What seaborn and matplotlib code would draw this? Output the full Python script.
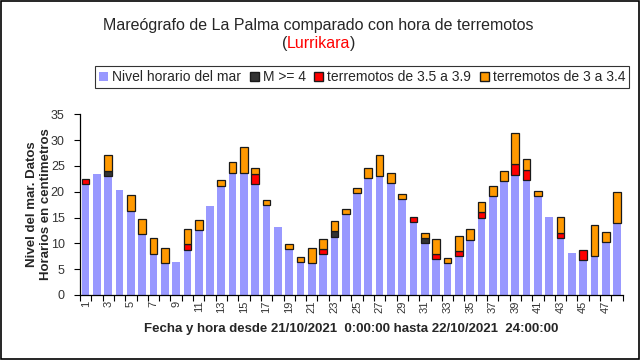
import numpy as np
import pandas as pd
import matplotlib.pyplot as plt
import seaborn as sns
from matplotlib.patches import Patch, Rectangle

# Horas (1..48) y nivel horario del mar en cm
horas = [str(i) for i in range(1, 49)]
nivel = [21.5, 23.4, 23.1, 20.3, 16.3, 11.8, 8.0, 6.1, 6.3, 8.8, 12.6, 17.2,
         21.2, 23.7, 23.7, 21.5, 17.4, 13.1, 8.9, 6.4, 6.1, 7.9, 11.3, 15.7,
         19.8, 22.6, 23.1, 21.7, 18.6, 14.1, 10.1, 6.9, 6.1, 7.5, 10.7, 15.0,
         19.1, 22.0, 23.3, 22.3, 19.1, 15.1, 11.1, 8.1, 6.7, 7.6, 10.2, 14.0]

# numero de terremotos por hora
m4 = [0, 0, 1, 0, 0, 0, 0, 0, 0, 0, 0, 0,
      0, 0, 0, 0, 0, 0, 0, 0, 0, 0, 1, 0,
      0, 0, 0, 0, 0, 0, 1, 0, 0, 0, 0, 0,
      0, 0, 0, 0, 0, 0, 0, 0, 0, 0, 0, 0]
m35 = [1, 0, 0, 0, 0, 0, 0, 0, 0, 1, 0, 0,
       0, 0, 0, 2, 0, 0, 0, 0, 0, 1, 0, 0,
       0, 0, 0, 0, 0, 1, 0, 1, 0, 1, 0, 1,
       0, 0, 2, 2, 0, 0, 1, 0, 2, 0, 0, 0]
m30 = [0, 0, 3, 0, 3, 3, 3, 3, 0, 3, 2, 0,
       1, 2, 5, 1, 1, 0, 1, 1, 3, 2, 2, 1,
       1, 2, 4, 2, 1, 0, 1, 3, 1, 3, 2, 2,
       2, 2, 6, 2, 1, 0, 3, 0, 0, 6, 2, 6]

sns.set_theme(style="ticks")
plt.rcParams['font.family'] = ['Liberation Sans', 'DejaVu Sans']

df = pd.DataFrame({'hora': horas, 'nivel': nivel, 'm4': m4, 'm35': m35, 'm30': m30})
df['base35'] = df['nivel'] + df['m4']
df['base30'] = df['base35'] + df['m35']

fig = plt.figure(figsize=(6.4, 3.6), dpi=100)
ax = fig.add_axes([0.125, 0.1806, 0.848, 0.502])

sns.barplot(data=df, x='hora', y='nivel', color='#9999ff', saturation=1,
            width=0.68, linewidth=0, errorbar=None, ax=ax)

capas = [('m4', 'nivel', '#333333'),
         ('m35', 'base35', '#ff0000'),
         ('m30', 'base30', '#ff9900')]
for col, base, color in capas:
    n0 = len(ax.patches)
    sns.barplot(data=df, x='hora', y=col, bottom=df[base].values, color=color,
                saturation=1, width=0.68, edgecolor='#1a1a1a', linewidth=0.9,
                errorbar=None, ax=ax)
    for p in ax.patches[n0:]:
        if p.get_height() == 0:
            p.set_linewidth(0)

ax.set_ylim(0, 35)
ax.set_yticks(range(0, 36, 5))
ax.set_xlim(-0.5, 47.5)
ax.set_xticks(range(0, 48, 2))
ax.set_xticklabels(horas[::2], rotation=90)
ax.set_xticks(np.arange(-0.5, 48, 1), minor=True)
ax.tick_params(axis='x', which='major', length=0, labelsize=8, labelcolor='#333333', pad=4)
ax.tick_params(axis='x', which='minor', length=4, width=0.8, color='black')
ax.tick_params(axis='y', length=4, width=0.8, color='black', labelsize=9,
               labelcolor='#333333', pad=7)
sns.despine(ax=ax)
for s in ['left', 'bottom']:
    ax.spines[s].set_color('black')
    ax.spines[s].set_linewidth(0.9)

ax.set_xlabel('Fecha y hora desde 21/10/2021  0:00:00 hasta 22/10/2021  24:00:00',
              fontweight='bold', fontsize=9.5, labelpad=7)
ax.set_ylabel('Nivel del mar. Datos\nHorarios en centimetros',
              fontweight='bold', fontsize=9.5)
ax.yaxis.set_label_coords(-0.052, 0.5)

# titulo
fig.text(0.498, 0.929, 'Mareógrafo de La Palma comparado con hora de terremotos',
         ha='center', va='center', fontsize=11.5)
t = fig.text(0.498, 0.858, 'Lurrikara', color='#ff0000', ha='center', va='bottom', fontsize=11.5)
ax.annotate('(', xy=(0, 0), xycoords=t, ha='right', va='bottom', fontsize=11.5)
ax.annotate(')', xy=(1, 0), xycoords=t, ha='left', va='bottom', fontsize=11.5)

handles = [Patch(facecolor='#9999ff', edgecolor='none', label='Nivel horario del mar'),
           Patch(facecolor='#333333', edgecolor='#1a1a1a', label='M >= 4'),
           Patch(facecolor='#ff0000', edgecolor='#1a1a1a', label='terremotos de 3.5 a 3.9'),
           Patch(facecolor='#ff9900', edgecolor='#1a1a1a', label='terremotos de 3 a 3.4')]
leg = fig.legend(handles=handles, loc='center', bbox_to_anchor=(0.566, 0.786), ncol=4,
                 fontsize=10, frameon=True, fancybox=False, edgecolor='black',
                 handlelength=0.65, handleheight=0.65, handletextpad=0.3,
                 columnspacing=0.6, borderpad=0.3, borderaxespad=0)
leg.get_frame().set_linewidth(0.8)

fig.patches.append(Rectangle((0.001, 0.002), 0.997, 0.996, transform=fig.transFigure,
                             fill=False, edgecolor='black', linewidth=1.2))

fig.savefig('out.png', dpi=100, facecolor='white')
